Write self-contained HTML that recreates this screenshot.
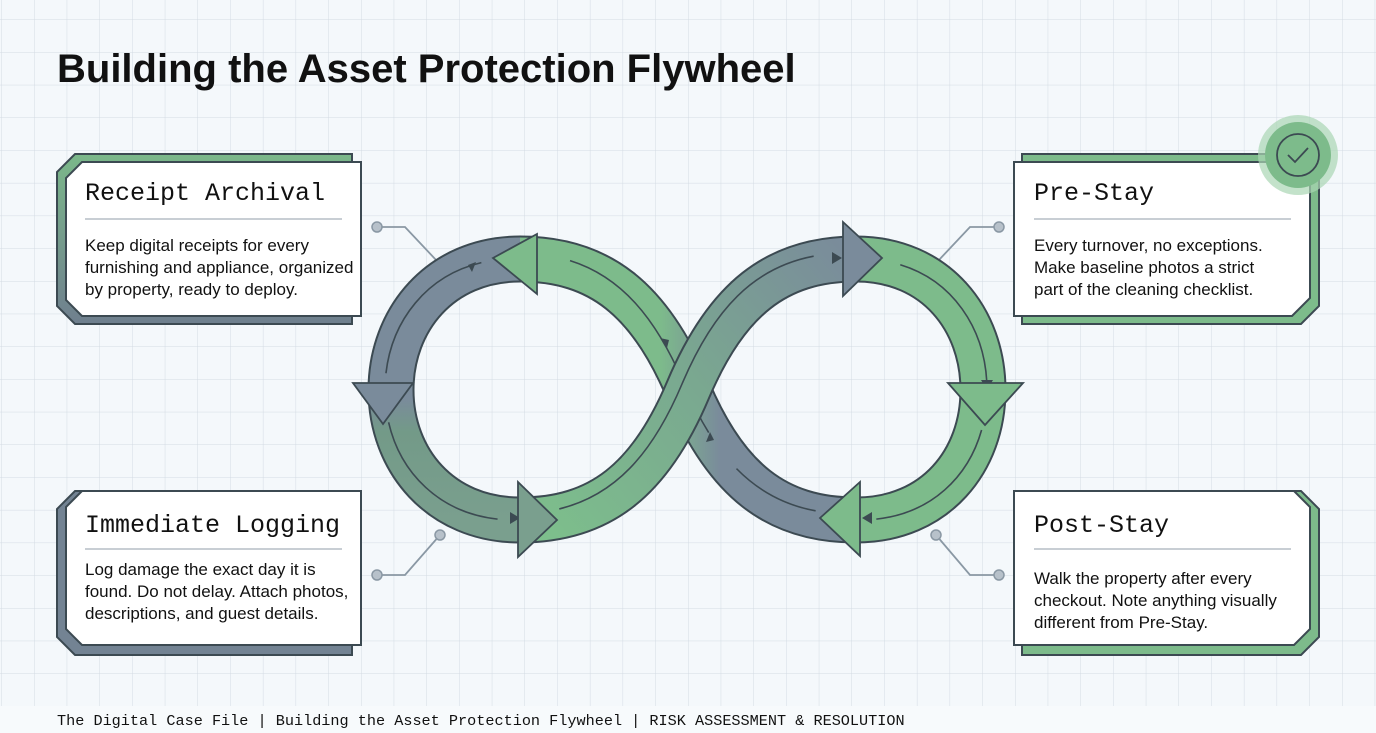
<!DOCTYPE html>
<html><head><meta charset="utf-8"><style>
html,body{margin:0;padding:0;background:#f4f8fb;}
svg{display:block}
.mono{font-family:"Liberation Mono",monospace;}
.sans{font-family:"Liberation Sans",sans-serif;}
</style></head><body>
<svg width="1376" height="733" viewBox="0 0 1376 733" xmlns="http://www.w3.org/2000/svg">
<defs>
<pattern id="grid" x="1.3" y="19.4" width="32.7" height="32.7" patternUnits="userSpaceOnUse">
<path d="M0 0H32.7M0 0V32.7" stroke="#d3dbe3" stroke-width="1" fill="none"/>
</pattern>
<linearGradient id="gL" x1="0" y1="0" x2="0" y2="1"><stop offset="0" stop-color="#7bb88a"/><stop offset="1" stop-color="#6f7f8e"/></linearGradient>
<linearGradient id="gUnder" gradientUnits="userSpaceOnUse" x1="660" y1="0" x2="720" y2="0"><stop offset="0" stop-color="#7dbb8b"/><stop offset="1" stop-color="#7a8b9b"/></linearGradient>
<linearGradient id="gLeft" gradientUnits="userSpaceOnUse" x1="0" y1="300" x2="0" y2="520"><stop offset="0" stop-color="#7a8b9b"/><stop offset="0.45" stop-color="#7a8b9b"/><stop offset="0.6" stop-color="#739a88"/><stop offset="1" stop-color="#7a9f8e"/></linearGradient>
<linearGradient id="gOver" gradientUnits="userSpaceOnUse" x1="540" y1="520" x2="860" y2="259"><stop offset="0" stop-color="#7dbe8c"/><stop offset="0.5" stop-color="#7aa890"/><stop offset="1" stop-color="#7a8b9b"/></linearGradient>
</defs>
<rect width="1376" height="733" fill="#f4f8fb"/>
<rect width="1376" height="706" fill="url(#grid)"/>
<rect y="706" width="1376" height="27" fill="#f7fafc"/>

<text x="57" y="82" class="sans" font-size="40" font-weight="bold" fill="#111">Building the Asset Protection Flywheel</text>

<!-- connectors -->
<g stroke="#8a98a4" stroke-width="1.8" fill="none">
<polyline points="377,227 405,227 437,261"/>
<polyline points="999,227 970,227 938,261"/>
<polyline points="377,575 405,575 440,535"/>
<polyline points="936,535 970,575 999,575"/>
</g>
<g fill="#b7c1ca" stroke="#8a98a4" stroke-width="1.5">
<circle cx="377" cy="227" r="5"/><circle cx="999" cy="227" r="5"/>
<circle cx="377" cy="575" r="5"/><circle cx="999" cy="575" r="5"/>
<circle cx="440" cy="535" r="5"/><circle cx="936" cy="535" r="5"/>
</g>

<!-- infinity -->
<g fill="none" stroke-linecap="butt">
<path d="M856,520 C776,520 726,480 688,390 C650,300 600,259 520,259" stroke="#3c4a52" stroke-width="47"/>
<path d="M856,520 C776,520 726,480 688,390 C650,300 600,259 520,259" stroke="url(#gUnder)" stroke-width="43"/>
<path d="M856,520 C776,520 726,480 688,390 C650,300 600,259 520,259" stroke="#3c4a52" stroke-width="1.6" pathLength="100" stroke-dasharray="0 8 20 10 50 100" transform="translate(-4,-6)"/>
<g fill="#3c4a52" stroke="none">
<polygon points="667,348 660,338 669,340"/>
<polygon points="710,432 706,442 714,440"/>
</g>
<path d="M520,259 C440,259 391,320 391,390 C391,460 440,520 520,520" stroke="#3c4a52" stroke-width="47"/>
<path d="M520,259 C440,259 391,320 391,390 C391,460 440,520 520,520" stroke="url(#gLeft)" stroke-width="43"/>
<path d="M856,259 C936,259 983,320 983,390 C983,460 936,520 856,520" stroke="#3c4a52" stroke-width="47"/>
<path d="M856,259 C936,259 983,320 983,390 C983,460 936,520 856,520" stroke="#7dbb8b" stroke-width="43"/>
<path d="M520,520 C600,520 650,480 688,390 C726,300 776,259 856,259" stroke="#3c4a52" stroke-width="47"/>
<path d="M520,520 C600,520 650,480 688,390 C726,300 776,259 856,259" stroke="url(#gOver)" stroke-width="43"/>
<g stroke="#3c4a52" stroke-width="1.6">
<path d="M520,259 C440,259 391,320 391,390 C391,460 440,520 520,520" pathLength="100" stroke-dasharray="0 8 38 12 38 100" transform="translate(-6,0)"/>
<path d="M520,520 C600,520 650,480 688,390 C726,300 776,259 856,259" pathLength="100" stroke-dasharray="0 10 82 100" transform="translate(-6,-6)"/>
<path d="M856,259 C936,259 983,320 983,390 C983,460 936,520 856,520" pathLength="100" stroke-dasharray="0 10 38 12 36 100" transform="translate(4,0)"/>
</g>
<g fill="#3c4a52">
<polygon points="476,262 468,265 472,272"/>
<polygon points="520,518 510,512 510,524"/>
<polygon points="842,258 832,252 832,264"/>
<polygon points="987,390 981,380 993,380"/>
<polygon points="862,518 872,512 872,524"/>
</g>
</g>
<!-- arrowheads -->
<g stroke="#3c4a52" stroke-width="1.8" stroke-linejoin="miter">
<polygon points="493,258 537,234 537,294" fill="#7dbb8b"/>
<polygon points="353,383 413,383 383,424" fill="#7a8b9b"/>
<polygon points="557,520 518,482 518,557" fill="#7a9f8e"/>
<polygon points="882,258 843,222 843,296" fill="#7a8b9b"/>
<polygon points="948,383 1023,383 985,425" fill="#7dbb8b"/>
<polygon points="820,518 860,482 860,556" fill="#7dbb8b"/>
</g>

<!-- Card 1 -->
<polygon points="75,154 352,154 352,324 75,324 57,306 57,172" fill="url(#gL)" stroke="#3c4a52" stroke-width="2"/>
<polygon points="82,162 361,162 361,316 82,316 66,300 66,178" fill="#fff" stroke="#3c4a52" stroke-width="2"/>
<text x="85" y="200" class="mono" font-size="25" fill="#111">Receipt Archival</text>
<line x1="85" y1="219" x2="342" y2="219" stroke="#c8ced4" stroke-width="2"/>
<g class="sans" font-size="17" fill="#111"><text x="85" y="251">Keep digital receipts for every</text><text x="85" y="273">furnishing and appliance, organized</text><text x="85" y="295">by property, ready to deploy.</text></g>

<!-- Card 2 -->
<polygon points="75,491 352,491 352,655 75,655 57,637 57,509" fill="#738393" stroke="#3c4a52" stroke-width="2"/>
<polygon points="82,491 361,491 361,645 82,645 66,629 66,507" fill="#fff" stroke="#3c4a52" stroke-width="2"/>
<text x="85" y="532" class="mono" font-size="25" fill="#111">Immediate Logging</text>
<line x1="85" y1="549" x2="342" y2="549" stroke="#c8ced4" stroke-width="2"/>
<g class="sans" font-size="17" fill="#111"><text x="85" y="575">Log damage the exact day it is</text><text x="85" y="597">found. Do not delay. Attach photos,</text><text x="85" y="619">descriptions, and guest details.</text></g>

<!-- Card 3 -->
<polygon points="1022,154 1319,154 1319,306 1301,324 1022,324" fill="#7dbb8b" stroke="#3c4a52" stroke-width="2"/>
<polygon points="1014,162 1310,162 1310,298 1292,316 1014,316" fill="#fff" stroke="#3c4a52" stroke-width="2"/>
<text x="1034" y="200" class="mono" font-size="25" fill="#111">Pre-Stay</text>
<line x1="1034" y1="219" x2="1291" y2="219" stroke="#c8ced4" stroke-width="2"/>
<g class="sans" font-size="17" fill="#111"><text x="1034" y="251">Every turnover, no exceptions.</text><text x="1034" y="273">Make baseline photos a strict</text><text x="1034" y="295">part of the cleaning checklist.</text></g>
<circle cx="1298" cy="155" r="40" fill="#a9d5b3" opacity="0.7"/>
<circle cx="1298" cy="155" r="33" fill="#7dbb8b"/>
<circle cx="1298" cy="155" r="21" fill="none" stroke="#3c4a52" stroke-width="1.8"/>
<polyline points="1288,155 1295,162 1308,148" fill="none" stroke="#3c4a52" stroke-width="1.8"/>

<!-- Card 4 -->
<polygon points="1022,491 1301,491 1319,509 1319,637 1301,655 1022,655" fill="#7dbb8b" stroke="#3c4a52" stroke-width="2"/>
<polygon points="1014,491 1294,491 1310,507 1310,629 1294,645 1014,645" fill="#fff" stroke="#3c4a52" stroke-width="2"/>
<text x="1034" y="532" class="mono" font-size="25" fill="#111">Post-Stay</text>
<line x1="1034" y1="549" x2="1291" y2="549" stroke="#c8ced4" stroke-width="2"/>
<g class="sans" font-size="17" fill="#111"><text x="1034" y="584">Walk the property after every</text><text x="1034" y="606">checkout. Note anything visually</text><text x="1034" y="628">different from Pre-Stay.</text></g>

<text x="57" y="725" class="mono" font-size="15.2" fill="#111">The Digital Case File | Building the Asset Protection Flywheel | RISK ASSESSMENT &amp; RESOLUTION</text>
</svg>
</body></html>
